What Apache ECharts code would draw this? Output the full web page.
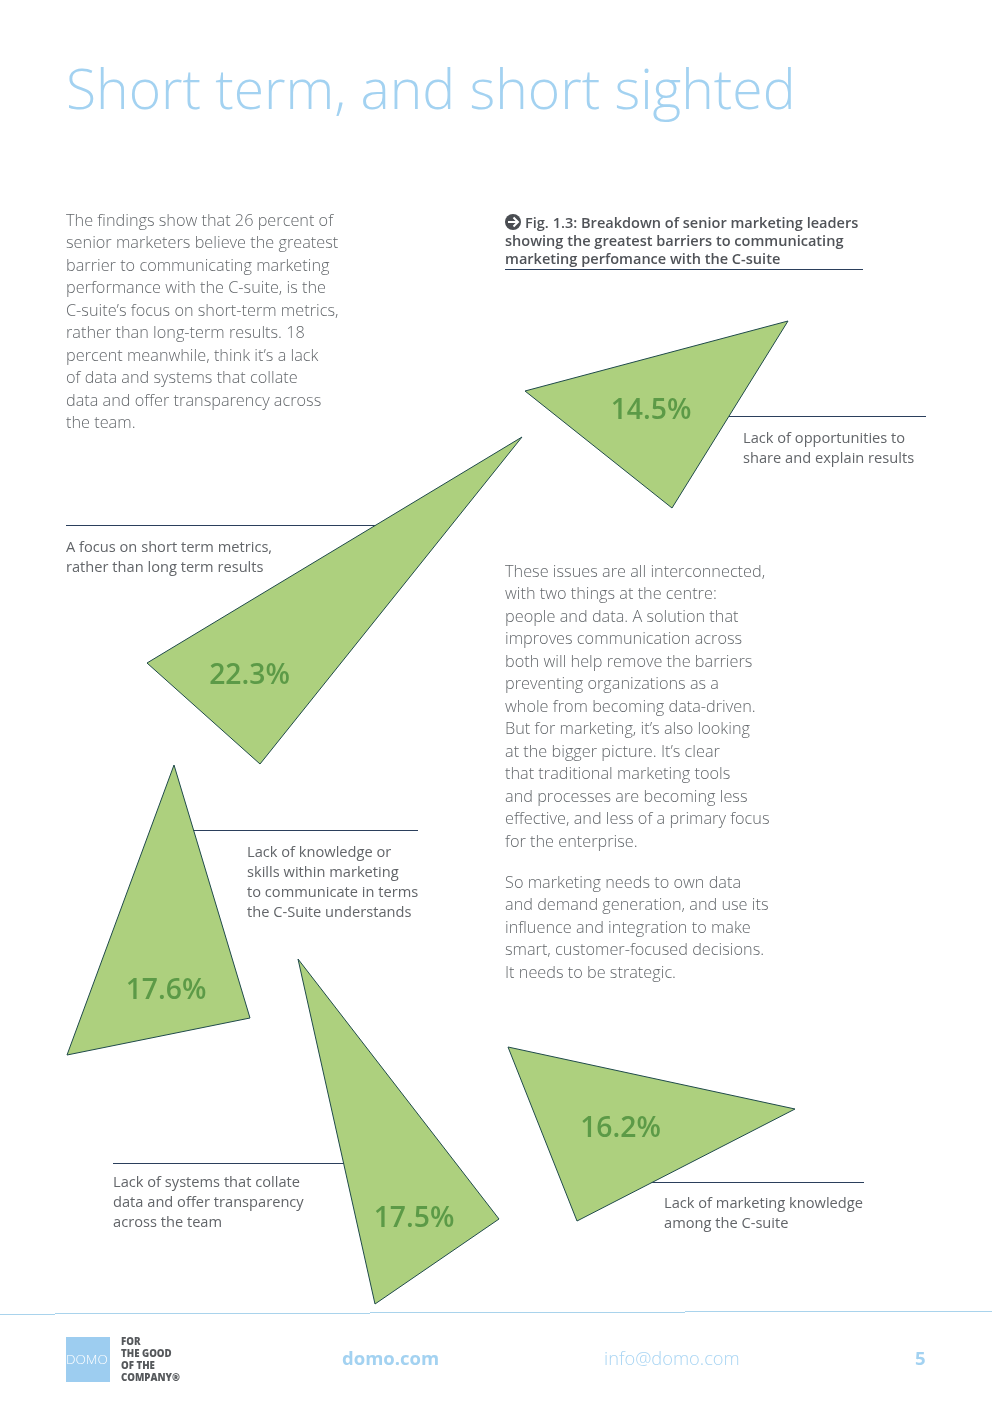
<!DOCTYPE html>
<html><head><meta charset="utf-8">
<style>html,body{margin:0;padding:0;background:#fff}#c{width:992px;height:1403px}</style>
<script src="https://cdn.jsdelivr.net/npm/echarts@6/dist/echarts.min.js"></script>
</head><body><div id="c"></div>
<script>
// Share of respondents per barrier, and the label of each
const categories = ["Lack of opportunities to share and explain results","A focus on short term metrics, rather than long term results","Lack of knowledge or skills within marketing to communicate in terms the C-Suite understands","Lack of systems that collate data and offer transparency across the team","Lack of marketing knowledge among the C-suite"];
const shares = [14.5, 22.3, 17.6, 17.5, 16.2];
// Triangles, in page units of the hidden axes
const triangleA = [[788,321],[525,391],[672,508]];
const triangleB = [[522,437],[147,663],[260,764]];
const triangleC = [[174,765],[67,1055],[250,1018]];
const triangleD = [[298,959],[499,1219],[375,1304]];
const triangleE = [[508,1047],[795,1109],[577,1221]];
const triangles = [triangleA, triangleB, triangleC, triangleD, triangleE];
const labelAnchors = [[651,411],[249.5,676],[166,991],[414,1219],[620.5,1129]];
const leaders = [[[729,416],[926,416]],[[66,525],[378,525]],[[190,830],[418,830]],[[113,1163],[345,1163]],[[650,1182],[864,1182]]];

const F = '"Open Sans"';
const chart = echarts.init(document.getElementById('c'), null, {renderer:'canvas'});

const graphics = [];
function lines(x, y, step, arr, style){
  arr.forEach((t,i)=>graphics.push({type:'text',x:x,y:y+i*step,silent:true,z:1,
    style:Object.assign({text:t,fontFamily:F,verticalAlign:'middle'},style)}));
}
const body={fontSize:16.3,fontWeight:300,fill:'#63676b'};
const cap={fontSize:14.65,fontWeight:400,fill:'#626569'};
lines(66,93,0,['Short term, and short sighted'],{fontSize:55.2,fontWeight:300,fill:'#a3d2f1'});
lines(66,221,22.53,['The findings show that 26 percent of','senior marketers believe the greatest','barrier to communicating marketing','performance with the C-suite, is the','C-suite’s focus on short-term metrics,','rather than long-term results. 18','percent meanwhile, think it’s a lack','of data and systems that collate','data and offer transparency across','the team.'],body);
lines(505,572,22.53,['These issues are all interconnected,','with two things at the centre:','people and data. A solution that','improves communication across','both will help remove the barriers','preventing organizations as a','whole from becoming data-driven.','But for marketing, it’s also looking','at the bigger picture. It’s clear','that traditional marketing tools','and processes are becoming less','effective, and less of a primary focus','for the enterprise.'],body);
lines(505,883,22.53,['So marketing needs to own data','and demand generation, and use its','influence and integration to make','smart, customer-focused decisions.','It needs to be strategic.'],body);
const fig={fontSize:14.55,fontWeight:600,fill:'#505358'};
lines(525,224,0,['Fig. 1.3: Breakdown of senior marketing leaders'],fig);
lines(505,242,18,['showing the greatest barriers to communicating','marketing perfomance with the C-suite'],fig);
graphics.push({type:'circle',shape:{cx:513,cy:222,r:8},style:{fill:'#4a4d52'},silent:true});
graphics.push({type:'polyline',shape:{points:[[508,222],[518,222]]},style:{stroke:'#fff',lineWidth:2},silent:true});
graphics.push({type:'polyline',shape:{points:[[513.5,217.5],[518,222],[513.5,226.5]]},style:{stroke:'#fff',lineWidth:2,fill:'none'},silent:true});
graphics.push({type:'line',shape:{x1:505,y1:269.5,x2:863,y2:269.5},style:{stroke:'#2b3f5c',lineWidth:1},silent:true});
lines(743,439,20,['Lack of opportunities to','share and explain results'],cap);
lines(66,548,20,['A focus on short term metrics,','rather than long term results'],cap);
lines(247,853,20,['Lack of knowledge or','skills within marketing','to communicate in terms','the C-Suite understands'],cap);
lines(113,1183,20,['Lack of systems that collate','data and offer transparency','across the team'],cap);
lines(664,1204,20,['Lack of marketing knowledge','among the C-suite'],cap);
// footer
[[0,55,1314],[55,370,1313],[370,685,1312],[685,992,1311]].forEach(s=>graphics.push({type:'line',shape:{x1:s[0],y1:s[2]+.5,x2:s[1],y2:s[2]+.5},style:{stroke:'#a9d3ec',lineWidth:1},silent:true}));
graphics.push({type:'rect',shape:{x:66,y:1337,width:44,height:45},style:{fill:'#9dcdf0'},silent:true});
lines(66,1360,0,['DOMO'],{fontSize:13.5,fontWeight:300,fill:'#ffffff'});
lines(121,1342.5,12,['FOR','THE GOOD','OF THE','COMPANY®'],{fontSize:9.7,fontWeight:800,fill:'#55585b'});
lines(342,1360,0,['domo.com'],{fontSize:18.5,fontWeight:700,fill:'#a3d2f1'});
lines(604,1360,0,['info@domo.com'],{fontSize:18.3,fontWeight:300,fill:'#a9d5f3'});
lines(915,1360,0,['5'],{fontSize:18.5,fontWeight:700,fill:'#a3d2f1'});

chart.setOption({
  animation:false,
  grid:{left:0,right:0,top:0,bottom:0},
  xAxis:{type:'value',min:0,max:992,show:false},
  yAxis:{type:'value',min:0,max:1403,inverse:true,show:false},
  graphic:{elements:graphics},
  series:[
    {type:'custom',name:'leaders',silent:true,z:2,coordinateSystem:'cartesian2d',
     data:leaders.map((l,i)=>({value:[l[0][0],l[0][1],l[1][0],l[1][1]],name:categories[i]})),
     encode:{x:[0,2],y:[1,3]},
     renderItem(p,api){const a=api.coord([api.value(0),api.value(1)]),b=api.coord([api.value(2),api.value(3)]);
       return {type:'line',shape:{x1:a[0],y1:Math.round(a[1])+.5,x2:b[0],y2:Math.round(b[1])+.5},style:{stroke:'#2b3f5c',lineWidth:1}};}},
    {type:'custom',name:'barriers',silent:true,z:3,coordinateSystem:'cartesian2d',
     data:triangles.map((t,i)=>({value:[...t.flat(),labelAnchors[i][0],labelAnchors[i][1],shares[i]],name:categories[i]})),
     encode:{x:[0,2,4],y:[1,3,5]},
     renderItem(p,api){
       const pts=[0,2,4].map(k=>api.coord([api.value(k),api.value(k+1)]));
       const c=api.coord([api.value(6),api.value(7)]);
       return {type:'group',children:[
         {type:'polygon',shape:{points:pts},style:{fill:'#add07e',stroke:'#1f4a4a',lineWidth:1,lineJoin:'miter'}},
         {type:'text',x:c[0],y:c[1],style:{text:api.value(8).toFixed(1)+'%',fontFamily:F,fontSize:28.3,fontWeight:600,fill:'#5c9a47',align:'center',verticalAlign:'middle'}}
       ]};
     }}
  ]
});
</script></body></html>
